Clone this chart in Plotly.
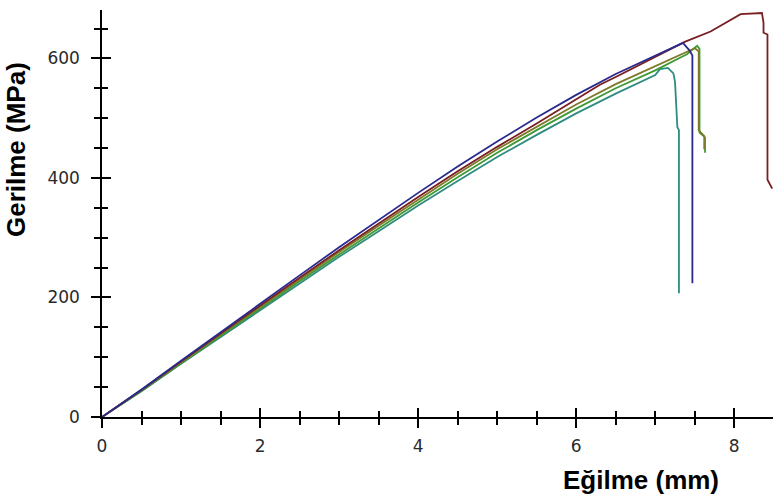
import plotly.graph_objects as go

# Flexural stress-deflection curves for five specimens
blue_x = [0, 0.5, 1, 1.5, 2, 2.5, 3, 3.5, 4, 4.5, 5, 5.5, 6, 6.5, 7.0, 7.23, 7.35, 7.43, 7.47, 7.47]
blue_y = [0, 46, 94, 142, 190, 237, 284, 330, 375, 419, 461, 501, 539, 574, 605, 619, 626, 614, 605, 224]

brown_x = [0, 0.5, 1, 1.5, 2, 2.5, 3, 3.5, 4, 4.5, 5, 5.5, 6, 6.3, 6.5, 7.0, 7.38, 7.7, 8.08, 8.35,
           8.37, 8.37, 8.42, 8.42, 8.48]
brown_y = [0, 45, 93, 140, 187, 233, 279, 324, 368, 411, 452, 491, 532, 556, 569, 603, 628, 645, 674, 676,
           660, 643, 640, 397, 382]

olive_x = [0, 0.5, 1, 1.5, 2, 2.5, 3, 3.5, 4, 4.5, 5, 5.5, 6, 6.5, 7.0, 7.4, 7.5, 7.55, 7.55, 7.62, 7.62]
olive_y = [0, 45, 91, 138, 184, 230, 276, 320, 364, 407, 448, 486, 523, 557, 587, 610, 617, 612, 480, 470, 448]

green_x = [0, 0.5, 1, 1.5, 2, 2.5, 3, 3.5, 4, 4.5, 5, 5.5, 6, 6.5, 7.0, 7.4, 7.53, 7.56, 7.56, 7.63, 7.63]
green_y = [0, 44, 90, 136, 182, 227, 272, 316, 359, 401, 442, 480, 516, 550, 580, 607, 621, 616, 476, 468, 442]

teal_x = [0, 0.5, 1, 1.5, 2, 2.5, 3, 3.5, 4, 4.5, 5, 5.5, 6, 6.5, 7.0, 7.06, 7.16, 7.23, 7.25, 7.28, 7.30, 7.30]
teal_y = [0, 43, 89, 134, 179, 223, 268, 311, 354, 395, 435, 472, 508, 541, 572, 582, 584, 575, 561, 485, 480, 207]

x_ticks = [0, 2, 4, 6, 8]
y_ticks = [0, 200, 400, 600]

series = [
    (teal_x, teal_y, "#2f8c82"),
    (green_x, green_y, "#3f9a35"),
    (olive_x, olive_y, "#7d7a2a"),
    (brown_x, brown_y, "#7a1e22"),
    (blue_x, blue_y, "#2a2a8e"),
]

fig = go.Figure()
for xs, ys, col in series:
    fig.add_trace(go.Scatter(x=xs, y=ys, mode="lines",
                             line=dict(color=col, width=1.8),
                             showlegend=False, hoverinfo="skip"))

X_RANGE = [0, 8.49]
Y_RANGE = [0, 681]
tick_font = dict(family="DejaVu Sans", size=17, color="#2a2a2a")

common = dict(showgrid=False, zeroline=False, tickcolor="black", tickwidth=1.5)

fig.update_layout(
    width=773, height=498,
    margin=dict(l=102, r=0, t=10, b=81),
    paper_bgcolor="white", plot_bgcolor="white",
    xaxis=dict(range=X_RANGE, tickvals=x_ticks, ticks="outside", ticklen=9,
               showline=True, linecolor="black", linewidth=1.5,
               tickfont=tick_font, ticklabelstandoff=4,
               minor=dict(dtick=0.5, tick0=0, ticks="outside", ticklen=6,
                          tickcolor="black", tickwidth=1.5),
               **common),
    xaxis2=dict(range=X_RANGE, overlaying="x", anchor="y", side="bottom",
                tickvals=x_ticks, ticks="inside", ticklen=9, showticklabels=False,
                minor=dict(dtick=0.5, tick0=0, ticks="inside", ticklen=6,
                           tickcolor="black", tickwidth=1.5),
                **common),
    yaxis=dict(range=Y_RANGE, tickvals=y_ticks, ticks="outside", ticklen=9,
               showline=True, linecolor="black", linewidth=1.5,
               tickfont=tick_font, ticklabelstandoff=8,
               minor=dict(dtick=50, tick0=0, ticks="outside", ticklen=6,
                          tickcolor="black", tickwidth=1.5),
               **common),
    yaxis2=dict(range=Y_RANGE, overlaying="y", anchor="x", side="left",
                tickvals=y_ticks, ticks="inside", ticklen=9, showticklabels=False,
                minor=dict(dtick=50, tick0=0, ticks="inside", ticklen=6,
                           tickcolor="black", tickwidth=1.5),
                **common),
)

# invisible trace to bind the overlay axes
fig.add_trace(go.Scatter(x=[None], y=[None], xaxis="x2", yaxis="y2",
                         showlegend=False, hoverinfo="skip"))

title_font = dict(family="Liberation Sans", size=26, color="black")
fig.add_annotation(text="<b>Eğilme (mm)</b>", xref="paper", yref="paper",
                   x=(641 - 102) / 671, y=-(480 - 417) / 407,
                   xanchor="center", yanchor="middle", showarrow=False,
                   font=title_font)
fig.add_annotation(text="<b>Gerilme (MPa)</b>", xref="paper", yref="paper",
                   x=-(102 - 16) / 671, y=(417 - 150) / 407,
                   xanchor="center", yanchor="middle", showarrow=False,
                   textangle=-90, font=title_font)

fig.write_html("out.html")
